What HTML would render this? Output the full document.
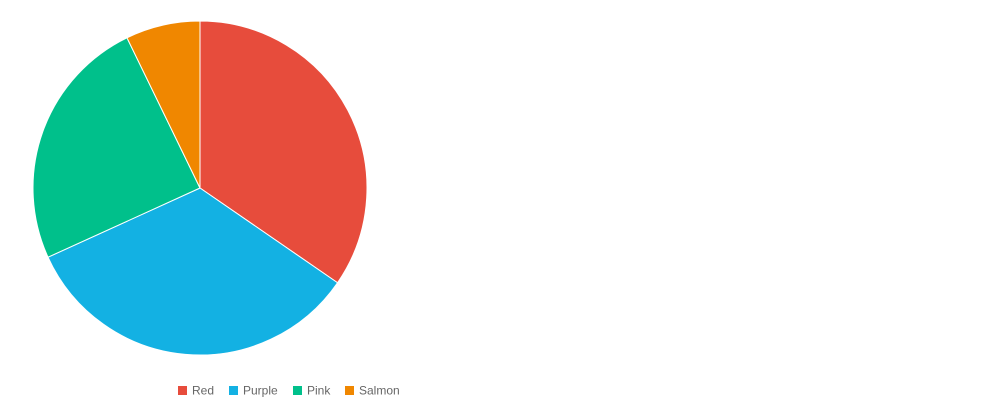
<!DOCTYPE html>
<html><head><meta charset="utf-8"><style>
body{margin:0;background:#fff;width:992px;height:400px;overflow:hidden;font-family:"Liberation Sans",sans-serif}
</style></head><body>
<svg id="chart" width="992" height="400" xmlns="http://www.w3.org/2000/svg"></svg>
<script>
const categories=["Red","Purple","Pink","Salmon"];
const values=[34.6,33.6,24.6,7.2];
const colors=["#e74c3c","#13b1e3","#00c08b","#f08700"];
const svg=document.getElementById('chart');
const NS="http://www.w3.org/2000/svg";
const cx=200,cy=188,r=167;
const total=values.reduce((a,b)=>a+b,0);
let a0=0;
values.forEach((v,i)=>{
  const a1=a0+v/total*Math.PI*2;
  const x0=cx+r*Math.sin(a0),y0=cy-r*Math.cos(a0);
  const x1=cx+r*Math.sin(a1),y1=cy-r*Math.cos(a1);
  const large=(a1-a0)>Math.PI?1:0;
  const p=document.createElementNS(NS,'path');
  p.setAttribute('d',`M${cx},${cy}L${x0},${y0}A${r},${r} 0 ${large} 1 ${x1},${y1}Z`);
  p.setAttribute('fill',colors[i]);p.setAttribute('stroke','#fff');p.setAttribute('stroke-width','1');
  
  
  svg.appendChild(p);
  a0=a1;
});
const lx=[178,229,293,345];
categories.forEach((c,i)=>{
  const g=document.createElementNS(NS,'g');
  
  
  const rc=document.createElementNS(NS,'rect');
  rc.setAttribute('x',lx[i]);rc.setAttribute('y',386);rc.setAttribute('width',9);rc.setAttribute('height',9);rc.setAttribute('fill',colors[i]);
  const t=document.createElementNS(NS,'text');
  t.setAttribute('x',lx[i]+14);t.setAttribute('y',394.5);t.setAttribute('font-size','12');t.setAttribute('fill','#666');
  t.textContent=c;
  g.appendChild(rc);g.appendChild(t);svg.appendChild(g);
});
</script>
</body></html>
